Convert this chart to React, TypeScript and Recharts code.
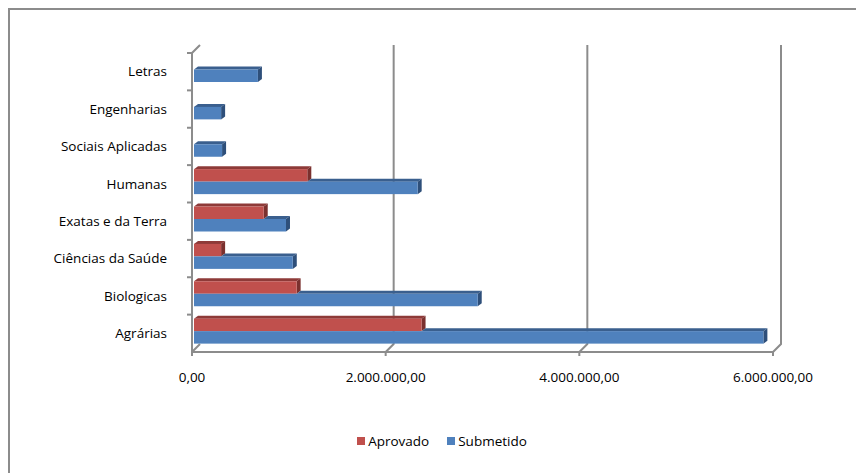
import React from 'react';
import { BarChart, Bar, XAxis, YAxis, CartesianGrid, Legend } from 'recharts';

// top to bottom as drawn
const categories = [
    'Letras',
    'Engenharias',
    'Sociais Aplicadas',
    'Humanas',
    'Exatas e da Terra',
    'Ciências da Saúde',
    'Biologicas',
    'Agrárias',
];
const aprovado = [0, 0, 0, 1170000, 720000, 280000, 1060000, 2350000];
const submetido = [660000, 280000, 290000, 2310000, 950000, 1020000, 2930000, 5880000];
const valueTicks = [0, 2000000, 4000000, 6000000];
const seriesNames = ['Aprovado', 'Submetido'];

const W = 856;
const H = 473;
const MARGIN = { top: 53, right: 83, bottom: 22, left: 0 };
const Y_W = 192;
const X_H = 79;
const LEG_H = 20;
const DEPTH = 8; // back wall offset
const BAR_D = 4; // bar depth
const PLOT_H = H - MARGIN.top - MARGIN.bottom - X_H - LEG_H;
const BAND = PLOT_H / categories.length;
const GRID = '#8c8c8c';
const FONT = '"Open Sans", sans-serif';
const FS = 13.5;

const COLORS = {
    aprovado: { front: '#C0504D', top: '#8E3A38', side: '#7A302E' },
    submetido: { front: '#4F81BD', top: '#3A5F8E', side: '#2E4F7A' },
};

const data = categories.map((name, i) => ({ name, aprovado: aprovado[i], submetido: submetido[i] }));

const fmt = (v: number) => {
    const [int, dec] = v.toFixed(2).split('.');
    return int.replace(/\B(?=(\d{3})+(?!\d))/g, '.') + ',' + dec;
};

// vertical grid lines drawn as 3D back wall
const gridLine = (p: any) => {
    const { x1, y1, y2, index } = p;
    const k = `vg-${index}-${x1}`;
    if (Math.abs(x1 - Y_W) < 1) {
        return (
            <path key={k} d={`M${x1 + DEPTH},${y1 - DEPTH} L${x1},${y1} L${x1},${y2} L${x1 + DEPTH},${y2 - DEPTH}`}
                fill="none" stroke={GRID} strokeWidth={2} />
        );
    }
    return (
        <path key={k} d={`M${x1 + DEPTH},${y1 - DEPTH} L${x1 + DEPTH},${y2 - DEPTH} L${x1},${y2}`}
            fill="none" stroke={GRID} strokeWidth={2} />
    );
};

const CatTick = (p: any) => {
    const { x, y, payload } = p;
    const ax = x + 25;
    return (
        <g>
            <line x1={ax - 5} x2={ax} y1={y - BAND / 2} y2={y - BAND / 2} stroke={GRID} strokeWidth={2} />
            <text x={x} y={y} dy="0.35em" textAnchor="end" fontSize={FS} fontFamily={FONT} fill="#000">
                {payload.value}
            </text>
        </g>
    );
};

const Bar3D = (p: any) => {
    const { x, y, width, height, payload, kind } = p;
    if (!width || width <= 0) return <g />;
    const c = COLORS[kind as 'aprovado' | 'submetido'];
    const bx = x + 2;
    const by = y - 2;
    const bw = width;
    const bh = height;
    let ts = bx;
    if (kind === 'submetido' && payload.aprovado > 0) {
        ts = bx + (bw * payload.aprovado) / payload.submetido;
    }
    return (
        <g>
            {ts < bx + bw && (
                <polygon
                    points={`${ts},${by} ${ts + BAR_D},${by - BAR_D * 0.75} ${bx + bw + BAR_D},${by - BAR_D * 0.75} ${bx + bw},${by}`}
                    fill={c.top}
                />
            )}
            <polygon
                points={`${bx + bw},${by} ${bx + bw + BAR_D},${by - BAR_D * 0.75} ${bx + bw + BAR_D},${by + bh - BAR_D * 0.75} ${bx + bw},${by + bh}`}
                fill={c.side}
            />
            <rect x={bx} y={by} width={bw} height={bh} fill={c.front} />
        </g>
    );
};

const LegendContent = () => (
    <div style={{ display: 'flex', justifyContent: 'center', paddingLeft: 28, height: LEG_H, alignItems: 'center', fontFamily: FONT, fontSize: FS, color: '#000' }}>
        {seriesNames.map((n, i) => (
            <div key={n} style={{ display: 'flex', alignItems: 'center', marginRight: i === 0 ? 18 : 0 }}>
                <span style={{ width: 8, height: 8, background: i === 0 ? COLORS.aprovado.front : COLORS.submetido.front, marginRight: 3, display: 'inline-block' }} />
                <span>{n}</span>
            </div>
        ))}
    </div>
);

export default function App() {
    return (
        <div style={{ position: 'absolute', left: 0, top: 0, width: W, height: H, overflow: 'hidden', background: '#fff' }}>
            <div style={{ position: 'absolute', left: 8, top: 8, width: W + 20, height: H + 20, borderTop: `2.5px solid ${GRID}`, borderLeft: `2.5px solid ${GRID}` }} />
            <BarChart width={W} height={H} data={data} layout="vertical" margin={MARGIN} barSize={12.5} barGap={0}>
                <CartesianGrid horizontal={false} vertical={gridLine} />
                <XAxis
                    type="number"
                    domain={[0, 6000000]}
                    ticks={valueTicks}
                    tickFormatter={fmt}
                    height={X_H}
                    axisLine={{ stroke: GRID, strokeWidth: 2 }}
                    tickLine={{ stroke: GRID, strokeWidth: 2 }}
                    tickSize={4}
                    tickMargin={16}
                    interval={0}
                    tick={{ fontSize: FS, fontFamily: FONT, fill: '#000' }}
                />
                <YAxis
                    type="category"
                    dataKey="name"
                    width={Y_W}
                    axisLine={false}
                    tickLine={false}
                    tickSize={4}
                    tickMargin={21}
                    interval={0}
                    tick={<CatTick />}
                />
                <Legend verticalAlign="bottom" height={LEG_H} width={W} wrapperStyle={{ left: 0 }} content={<LegendContent />} />
                <Bar dataKey="aprovado" name="Aprovado" fill={COLORS.aprovado.front} isAnimationActive={false}
                    shape={(p: any) => <Bar3D {...p} kind="aprovado" />} />
                <Bar dataKey="submetido" name="Submetido" fill={COLORS.submetido.front} isAnimationActive={false}
                    shape={(p: any) => <Bar3D {...p} kind="submetido" />} />
            </BarChart>
        </div>
    );
}
